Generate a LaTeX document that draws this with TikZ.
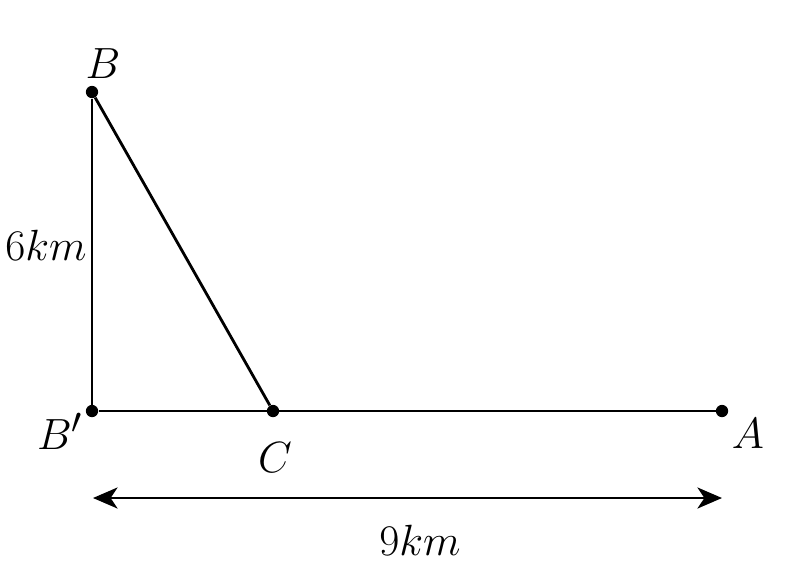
\documentclass[tikz,border=0pt]{standalone}
\usetikzlibrary{arrows.meta}
\tikzset{
  pt/.style={circle, fill=black, inner sep=0pt, minimum size=7pt},
  lbl/.style={font={\fontsize{28}{32}\selectfont}},
}
\begin{document}
\begin{tikzpicture}[x=0.02cm, y=-0.02cm]

\useasboundingbox (0,0) rectangle (794,582);

\node [pt] (B) at (92,92) {};
\node [pt] (Bp) at (92,411) {};
\node [pt] (C) at (273,411) {};
\node [pt] (A) at (722,411) {};

\draw [line width=1.6pt] (B) -- (Bp) -- (A);
\draw [line width=1.6pt] (B) -- (C);

\node [lbl] (lB) at (103,64) {$B$};
\node [lbl] (lBp) at (60,431) {$B'$};
\node [lbl] (lC) at (275,458) {$C$};
\node [lbl] (lA) at (748,434) {$A$};
\node [lbl] (l6) at (46,245) {$6km$};

\coordinate (d1) at (93,498);
\coordinate (d2) at (722,498);
\draw [line width=1.4pt, {Stealth[length=14pt,width=12pt,inset=4pt]}-{Stealth[length=14pt,width=12pt,inset=4pt]}] (d1) -- (d2);
\node [lbl] (l9) at (420,540) {$9km$};

\end{tikzpicture}
\end{document}
